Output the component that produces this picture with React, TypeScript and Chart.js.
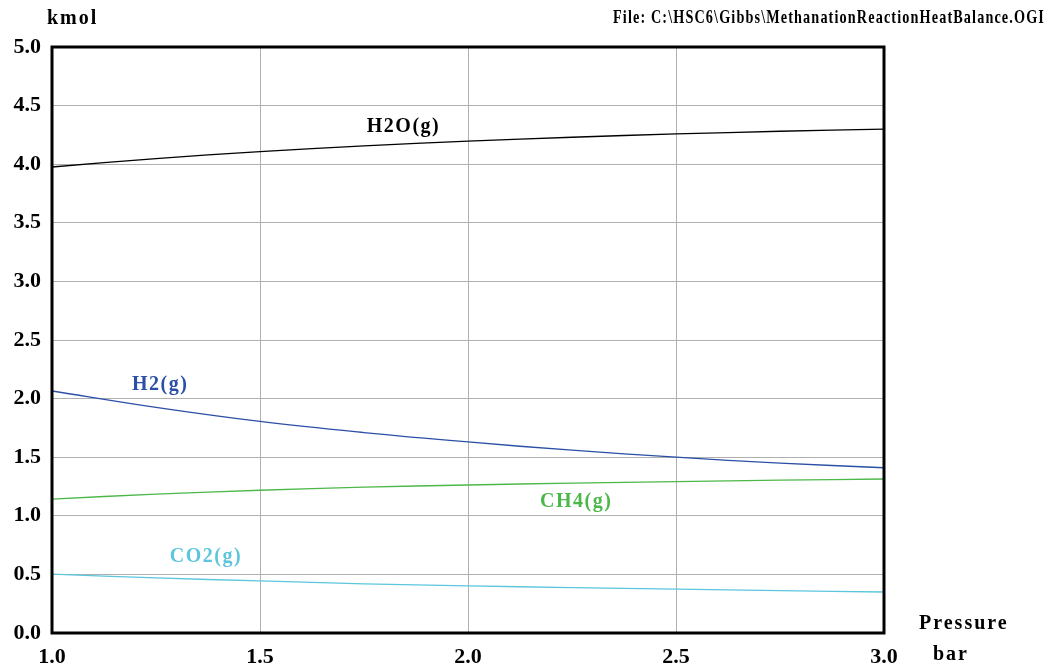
import React, { useEffect, useRef } from "react";
import { Chart, registerables } from "chart.js";

Chart.register(...registerables);

// Equilibrium amounts (kmol) versus pressure (bar)
const pressure = [1.0, 1.25, 1.5, 1.75, 2.0, 2.25, 2.5, 2.75, 3.0];
const h2o = [3.976, 4.048, 4.108, 4.156, 4.197, 4.23, 4.258, 4.281, 4.3];
const h2 = [2.065, 1.925, 1.805, 1.71, 1.63, 1.56, 1.5, 1.45, 1.41];
const ch4 = [1.143, 1.185, 1.218, 1.244, 1.263, 1.279, 1.292, 1.304, 1.314];
const co2 = [0.503, 0.47, 0.444, 0.42, 0.402, 0.388, 0.375, 0.362, 0.35];
const co = [0, 0, 0, 0, 0, 0, 0, 0, 0];

const seriesNames = ["H2O(g)", "H2(g)", "CH4(g)", "CO2(g)", "CO(g)"];
const seriesColors = ["#000000", "#2b4fa6", "#4cb84a", "#5cc6dc", "#7a4a48"];
// Where each species name is written (pressure, kmol)
const labelX = [1.845, 1.26, 2.26, 1.37];
const labelY = [4.32, 2.12, 1.12, 0.65];

const yTicks = [0, 0.5, 1, 1.5, 2, 2.5, 3, 3.5, 4, 4.5, 5];
const xTicks = [1.0, 1.5, 2.0, 2.5, 3.0];

const titleLeft = "kmol";
const titleRight = "File: C:\\HSC6\\Gibbs\\MethanationReactionHeatBalance.OGI";
const xTitle1 = "Pressure";
const xTitle2 = "bar";

const SERIF = '"Liberation Serif", "Times New Roman", serif';

const textPlugin = {
  id: "hscText",
  afterDatasetsDraw(chart: any) {
    const { ctx, chartArea, scales } = chart;
    const x = scales.x;
    const y = scales.y;
    ctx.save();
    // frame around the plot area
    ctx.strokeStyle = "#000";
    ctx.lineWidth = 3;
    ctx.strokeRect(chartArea.left, chartArea.top, chartArea.right - chartArea.left, chartArea.bottom - chartArea.top);

    ctx.textBaseline = "middle";
    ctx.textAlign = "center";
    ctx.font = `bold 20px ${SERIF}`;
    (ctx as any).letterSpacing = "1.5px";
    for (let i = 0; i < labelX.length; i++) {
      ctx.fillStyle = seriesColors[i];
      ctx.fillText(seriesNames[i], x.getPixelForValue(labelX[i]), y.getPixelForValue(labelY[i]));
    }

    ctx.fillStyle = "#000";
    ctx.textAlign = "left";
    ctx.font = `bold 20px ${SERIF}`;
    (ctx as any).letterSpacing = "2px";
    ctx.fillText(titleLeft, 47, 19);

    // file path: narrow, spaced-out bold text spanning the top right
    ctx.font = `bold 19px ${SERIF}`;
    (ctx as any).letterSpacing = "1.5px";
    const w = ctx.measureText(titleRight).width;
    ctx.save();
    ctx.translate(613, 18);
    ctx.scale(432 / w, 1);
    ctx.fillText(titleRight, 0, 0);
    ctx.restore();

    ctx.font = `bold 20px ${SERIF}`;
    (ctx as any).letterSpacing = "2px";
    ctx.fillText(xTitle1, 919, 624);
    ctx.fillText(xTitle2, 933, 655);
    ctx.restore();
  },
};

export default function App() {
  const canvasRef = useRef<HTMLCanvasElement | null>(null);

  useEffect(() => {
    document.body.style.margin = "0";
    const canvas = canvasRef.current;
    if (!canvas) return;
    const mk = (data: number[], i: number, order: number) => ({
      label: seriesNames[i],
      data: pressure.map((p, k) => ({ x: p, y: data[k] })),
      borderColor: seriesColors[i],
      backgroundColor: seriesColors[i],
      borderWidth: 1.3,
      pointRadius: 0,
      tension: 0.4,
      fill: false,
      order,
    });
    const chart = new Chart(canvas, {
      type: "line",
      data: {
        datasets: [mk(h2o, 0, 1), mk(h2, 1, 2), mk(ch4, 2, 3), mk(co2, 3, 4), mk(co, 4, 5)],
      },
      options: {
        animation: false,
        responsive: false,
        maintainAspectRatio: false,
        layout: { padding: { left: 0, top: 47, right: 170, bottom: 0 } },
        plugins: { legend: { display: false }, tooltip: { enabled: false } },
        scales: {
          x: {
            type: "linear",
            min: 1,
            max: 3,
            afterBuildTicks: (s: any) => {
              s.ticks = xTicks.map((v) => ({ value: v }));
            },
            afterFit: (s: any) => {
              s.height = 35;
            },
            grid: { color: "#b0b0b0", lineWidth: 1, drawTicks: false },
            border: { display: false },
            ticks: {
              color: "#000",
              padding: 11,
              font: { family: SERIF, size: 22, weight: "bold" },
              maxRotation: 0,
              callback: (v: any) => Number(v).toFixed(1),
            },
          },
          y: {
            type: "linear",
            min: 0,
            max: 5,
            afterBuildTicks: (s: any) => {
              s.ticks = yTicks.map((v) => ({ value: v }));
            },
            afterFit: (s: any) => {
              s.width = 52;
            },
            grid: { color: "#b0b0b0", lineWidth: 1, drawTicks: false },
            border: { display: false },
            ticks: {
              color: "#000",
              padding: 11,
              font: { family: SERIF, size: 22, weight: "bold" },
              callback: (v: any) => Number(v).toFixed(1),
            },
          },
        },
      },
      plugins: [textPlugin],
    });
    return () => chart.destroy();
  }, []);

  return (
    <div style={{ width: 1054, height: 668, background: "#fff" }}>
      <canvas ref={canvasRef} width={1054} height={668} style={{ display: "block" }} />
    </div>
  );
}
